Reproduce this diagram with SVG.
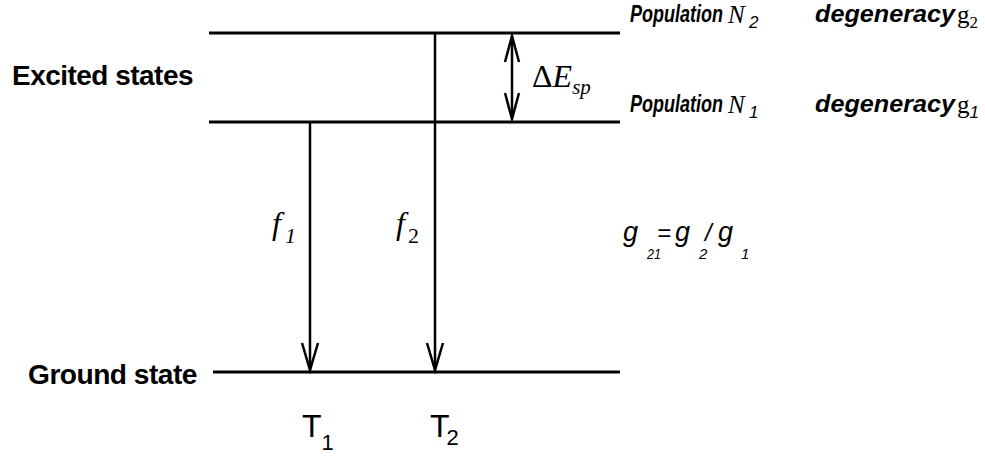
<svg xmlns="http://www.w3.org/2000/svg" width="985" height="456" viewBox="0 0 985 456">
<style>
.lvl{stroke:#000;stroke-width:3;fill:none}
.arr{stroke:#000;stroke-width:2.5;fill:none}
.lab{font-family:"Liberation Sans",Arial,sans-serif;font-weight:bold;font-size:28px;letter-spacing:-0.5px}
.pop{font-family:"Liberation Sans",Arial,sans-serif;font-weight:bold;font-style:italic;font-size:23px}
.tm{font-family:"Liberation Serif","Times New Roman",serif}
.ai{font-family:"Liberation Sans",Arial,sans-serif;font-style:italic}
.t{font-family:"Liberation Sans",Arial,sans-serif;font-size:32px}
</style>
<rect width="985" height="456" fill="#fff"/>
<g id="levels">
<g id="level-n2"><line class="lvl" x1="209" y1="33" x2="620" y2="33"/></g>
<g id="level-n1"><line class="lvl" x1="209" y1="122" x2="620" y2="122"/></g>
<g id="level-ground"><line class="lvl" x1="213" y1="372" x2="620" y2="372"/></g>
</g>
<g id="connectors">
<line class="arr" x1="310" y1="122" x2="310" y2="370"/>
<polyline class="arr" points="302,343 310,370 318,343"/>
<line class="arr" x1="435" y1="33" x2="435" y2="370"/>
<polyline class="arr" points="427,343 435,370 443,343"/>
<line class="arr" x1="512" y1="36" x2="512" y2="119"/>
<polyline class="arr" points="505,62 512,36 519,62"/>
<polyline class="arr" points="505,93 512,119 519,93"/>
</g>
<g id="labels">
<text class="lab" x="12" y="85" textLength="181" lengthAdjust="spacingAndGlyphs">Excited states</text>
<text class="lab" x="28" y="384" textLength="169" lengthAdjust="spacingAndGlyphs">Ground state</text>
<g id="pop2">
<text class="pop" x="630" y="22" textLength="93" lengthAdjust="spacingAndGlyphs">Population</text>
<text class="tm" x="728" y="23" font-size="25" font-style="italic">N</text>
<text class="ai" x="749" y="28" font-size="17">2</text>
<text class="pop" x="815" y="22" textLength="140" lengthAdjust="spacingAndGlyphs">degeneracy</text>
<text class="tm" x="957" y="23" font-size="25">g<tspan font-size="17" dy="5">2</tspan></text>
</g>
<g id="pop1">
<text class="pop" x="630" y="112" textLength="93" lengthAdjust="spacingAndGlyphs">Population</text>
<text class="tm" x="728" y="113" font-size="25" font-style="italic">N</text>
<text class="ai" x="749" y="118" font-size="17">1</text>
<text class="pop" x="815" y="112" textLength="140" lengthAdjust="spacingAndGlyphs">degeneracy</text>
<text class="tm" x="957" y="113" font-size="25">g<tspan class="ai" font-size="17" dy="5">1</tspan></text>
</g>
<text class="tm" x="532" y="87" font-size="32">Δ<tspan font-style="italic">E</tspan><tspan font-style="italic" font-size="21" dy="7">sp</tspan></text>
<text class="tm" x="272" y="234" font-size="32" font-style="italic">f<tspan font-size="22" dy="9" dx="4">1</tspan></text>
<text class="tm" x="396" y="234" font-size="32" font-style="italic">f<tspan font-size="22" font-style="normal" dy="9" dx="3">2</tspan></text>
<g id="ratio">
<text class="ai" x="623" y="241" font-size="27">g</text>
<text class="ai" x="647" y="259" font-size="15" textLength="14" lengthAdjust="spacingAndGlyphs">21</text>
<text class="ai" x="657" y="241" font-size="24">=</text>
<text class="ai" x="675" y="241" font-size="27">g</text>
<text class="ai" x="699" y="259" font-size="15">2</text>
<text class="ai" x="705" y="241" font-size="24">/</text>
<text class="ai" x="718" y="241" font-size="27">g</text>
<text class="ai" x="741" y="259" font-size="15">1</text>
</g>
<text class="t" x="302" y="437">T<tspan font-size="22" dy="13">1</tspan></text>
<text class="t" x="430" y="437">T<tspan font-size="22" dy="8" dx="-3">2</tspan></text>
</g>
</svg>
